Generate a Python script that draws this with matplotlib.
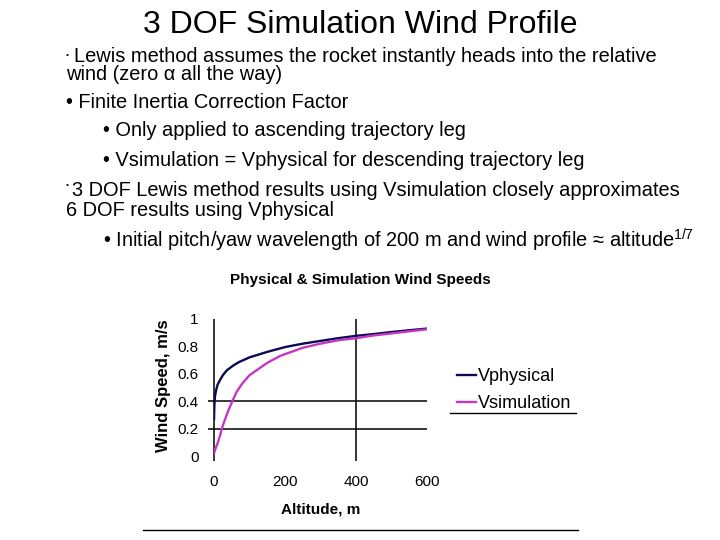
import matplotlib
matplotlib.use("Agg")
import matplotlib.pyplot as plt
from matplotlib.lines import Line2D

plt.rcParams["font.family"] = ["Liberation Sans", "DejaVu Sans"]
plt.rcParams["mathtext.fontset"] = "custom"
plt.rcParams["mathtext.rm"] = "Liberation Sans"

# values
alt_phys = [0.1, 1, 3, 6, 10, 17, 25, 36, 54, 70, 100, 150, 200, 250, 300, 350, 400, 450, 500, 550, 600]
v_phys = [0.27, 0.37, 0.44, 0.48, 0.52, 0.555, 0.59, 0.625, 0.66, 0.685, 0.72, 0.76, 0.795, 0.82, 0.84,
          0.86, 0.877, 0.89, 0.905, 0.918, 0.93]
alt_sim = [0.1, 5, 10, 17, 22, 30, 40, 50, 64, 80, 100, 150, 186, 250, 300, 350, 400, 450, 500, 550, 600]
v_sim = [0.02, 0.06, 0.09, 0.15, 0.20, 0.26, 0.33, 0.39, 0.47, 0.53, 0.59, 0.68, 0.73, 0.79, 0.82,
         0.845, 0.86, 0.88, 0.895, 0.91, 0.925]

x_ticks = [0, 200, 400, 600]
y_ticks = [0, 0.2, 0.4, 0.6, 0.8, 1]
y_labels = ["0", "0.2", "0.4", "0.6", "0.8", "1"]
h_grid = [0.2, 0.4]
v_grid = [0, 400]

W, H = 720, 540
fig = plt.figure(figsize=(7.2, 5.4), dpi=100)

def fx(px):
    return px / W

def fy(py):
    return 1 - py / H

# slide title and bullets
fig.text(fx(360), fy(25), "3 DOF Simulation Wind Profile", fontsize=23, ha="center", va="center")

fs = 14.4
fig.text(fx(66), fy(56), "•", fontsize=6, ha="left", va="center")
fig.text(fx(74), fy(56), "Lewis method assumes the rocket instantly heads into the relative",
         fontsize=fs, ha="left", va="center")
fig.text(fx(66), fy(74), "wind (zero α all the way)", fontsize=fs, ha="left", va="center")
fig.text(fx(66), fy(103), "• Finite Inertia Correction Factor", fontsize=fs, ha="left", va="center")
fig.text(fx(103), fy(131), "• Only applied to ascending trajectory leg", fontsize=fs, ha="left", va="center")
fig.text(fx(103), fy(160), "• Vsimulation = Vphysical for descending trajectory leg",
         fontsize=fs, ha="left", va="center")
fig.text(fx(66), fy(185), "•", fontsize=6, ha="left", va="center")
fig.text(fx(72), fy(190), "3 DOF Lewis method results using Vsimulation closely approximates",
         fontsize=fs, ha="left", va="center")
fig.text(fx(66), fy(211), "6 DOF results using Vphysical", fontsize=fs, ha="left", va="center")
fig.text(fx(103), fy(240), "• Initial pitch/yaw wavelength of 200 m and wind profile ≈ altitude$^{1/7}$",
         fontsize=fs, ha="left", va="center")

# chart
ax = fig.add_axes([fx(214), fy(456), fx(427 - 214), (456 - 319) / H])
ax.set_xlim(0, 600)
ax.set_ylim(0, 1)
for s in ax.spines.values():
    s.set_visible(False)

ax.hlines(h_grid, -18, 600, color="black", lw=1.1, clip_on=False)
ax.vlines(v_grid, -0.04, 1, color="black", lw=1.1, clip_on=False)

ax.plot(alt_phys, v_phys, color="#0a0a55", lw=1.7, label="Vphysical")
ax.plot(alt_sim, v_sim, color="#c437c4", lw=1.7, label="Vsimulation")

ax.set_xticks(x_ticks)
ax.set_yticks(y_ticks)
ax.set_yticklabels(y_labels)
ax.tick_params(length=0, labelsize=11, pad=11)
ax.tick_params(axis="x", pad=14)

ax.set_title("Physical & Simulation Wind Speeds", fontsize=11, fontweight="bold", pad=25, x=0.685)
ax.set_xlabel("Altitude, m", fontsize=11, fontweight="bold")
ax.set_ylabel("Wind Speed, m/s", fontsize=12, fontweight="bold")
ax.xaxis.set_label_coords(0.5, -0.34)
ax.yaxis.set_label_coords(-0.2, 0.51)

fig.legend(loc="center left", bbox_to_anchor=(fx(448), fy(390)), frameon=False, fontsize=13,
           handlelength=1.05, handletextpad=0.12, labelspacing=0.55, borderpad=0)

fig.add_artist(Line2D([fx(450), fx(576)], [fy(413), fy(413)], color="black", lw=1))
fig.add_artist(Line2D([fx(143), fx(578)], [fy(530), fy(530)], color="black", lw=1))

fig.savefig("out.png", dpi=100)
